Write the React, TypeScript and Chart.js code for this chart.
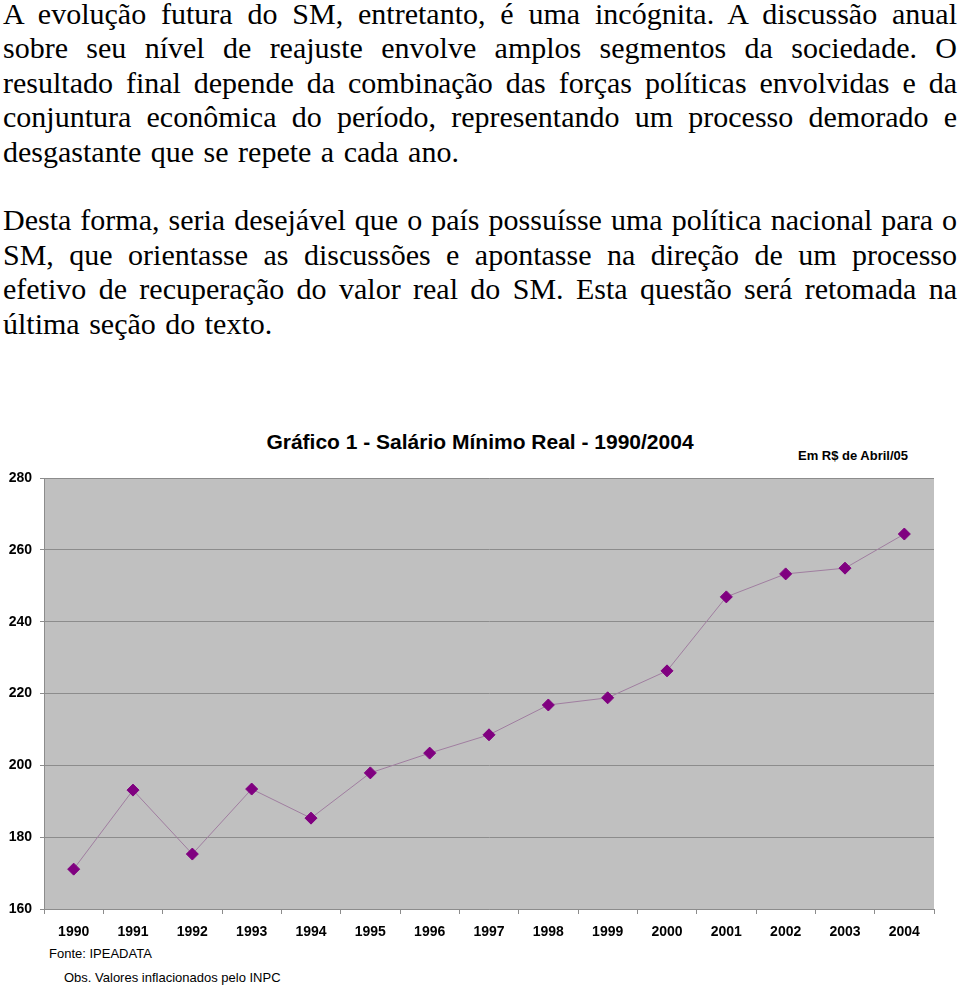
import React, { useEffect, useRef } from "react";
import { Chart, registerables } from "chart.js";

Chart.register(...registerables);

const years = ["1990","1991","1992","1993","1994","1995","1996","1997","1998","1999","2000","2001","2002","2003","2004"];
const salarioReal = [171.1, 193.1, 175.3, 193.4, 185.3, 197.9, 203.4, 208.5, 216.8, 218.8, 226.3, 246.9, 253.3, 254.9, 264.4];
const yMin = 160;
const yMax = 280;
const yStep = 20;

const chartTitle = "Gráfico 1 - Salário Mínimo Real - 1990/2004";
const unitNote = "Em R$ de Abril/05";
const sourceNote = "Fonte: IPEADATA";
const obsNote = "Obs. Valores inflacionados pelo INPC";

const para1 = [
  "A evolução futura do SM, entretanto, é uma incógnita. A discussão anual",
  "sobre seu nível de reajuste envolve amplos segmentos da sociedade. O",
  "resultado final depende da combinação das forças políticas envolvidas e da",
  "conjuntura econômica do período, representando um processo demorado e",
  "desgastante que se repete a cada ano.",
];
const para2 = [
  "Desta forma, seria desejável que o país possuísse uma política nacional para o",
  "SM, que orientasse as discussões e apontasse na direção de um processo",
  "efetivo de recuperação do valor real do SM. Esta questão será retomada na",
  "última seção do texto.",
];

const plotBg = {
  id: "plotBg",
  beforeDraw(chart: any) {
    const { ctx, chartArea } = chart;
    if (!chartArea) return;
    ctx.save();
    ctx.fillStyle = "#c0c0c0";
    ctx.fillRect(chartArea.left, chartArea.top, chartArea.right - chartArea.left, chartArea.bottom - chartArea.top);
    ctx.restore();
  },
};

function Paragraph({ lines }: { lines: string[] }) {
  return (
    <div>
      {lines.map((l, i) => {
        const last = i === lines.length - 1;
        return (
          <div
            key={i}
            style={{
              textAlign: "justify",
              textAlignLast: last ? "left" : "justify",
              wordSpacing: last ? "2px" : undefined,
              whiteSpace: "nowrap",
              height: "34.4px",
              lineHeight: "34.4px",
            }}
          >
            {l}
          </div>
        );
      })}
    </div>
  );
}

export default function App() {
  const canvasRef = useRef<HTMLCanvasElement | null>(null);

  useEffect(() => {
    if (!canvasRef.current) return;
    const chart = new Chart(canvasRef.current, {
      type: "line",
      data: {
        labels: years,
        datasets: [
          {
            data: salarioReal,
            borderColor: "#a07ea0",
            borderWidth: 1,
            pointStyle: "rectRot",
            pointRadius: 6,
            pointHoverRadius: 6,
            pointBackgroundColor: "#800080",
            pointBorderColor: "#800080",
            pointBorderWidth: 1,
            tension: 0,
            fill: false,
          },
        ],
      },
      options: {
        responsive: false,
        animation: false,
        layout: { padding: { top: 58, right: 26, left: 0, bottom: 0 } },
        plugins: {
          legend: { display: false },
          tooltip: { enabled: false },
          title: { display: false },
        },
        scales: {
          x: {
            offset: true,
            grid: {
              drawOnChartArea: false,
              offset: true,
              color: "#8c8c8c",
              tickLength: 5,
            },
            border: { display: true, color: "#8c8c8c" },
            ticks: {
              color: "#000",
              padding: 10,
              maxRotation: 0,
              autoSkip: false,
              font: { family: "'Liberation Sans', Arial, sans-serif", size: 14, weight: "bold" },
            },
            afterFit(scale: any) {
              scale.height = 31;
            },
          },
          y: {
            min: yMin,
            max: yMax,
            ticks: {
              stepSize: yStep,
              color: "#000",
              padding: 8,
              font: { family: "'Liberation Sans', Arial, sans-serif", size: 14, weight: "bold" },
            },
            grid: { color: "#8c8c8c", tickLength: 4, lineWidth: 1 },
            border: { display: true, color: "#8c8c8c" },
            afterFit(scale: any) {
              scale.width = 44;
            },
          },
        },
      },
      plugins: [plotBg],
    } as any);
    return () => chart.destroy();
  }, []);

  return (
    <div style={{ position: "absolute", left: 0, top: 0, width: 960, height: 989, background: "#fff", overflow: "hidden" }}>
      <div
        style={{
          position: "absolute",
          left: 3,
          top: -3,
          width: 954,
          fontFamily: "'Liberation Serif', 'Times New Roman', serif",
          fontSize: 30,
          color: "#000",
        }}
      >
        <Paragraph lines={para1} />
        <div style={{ height: "34.4px" }} />
        <Paragraph lines={para2} />
      </div>
      <div
        style={{
          position: "absolute",
          left: 0,
          top: 429,
          width: 960,
          textAlign: "center",
          fontFamily: "'Liberation Sans', Arial, sans-serif",
          fontWeight: "bold",
          fontSize: 21,
          lineHeight: "26px",
        }}
      >
        {chartTitle}
      </div>
      <div
        style={{
          position: "absolute",
          left: 798,
          top: 448,
          fontFamily: "'Liberation Sans', Arial, sans-serif",
          fontWeight: "bold",
          fontSize: 13,
          lineHeight: "16px",
        }}
      >
        {unitNote}
      </div>
      <div style={{ position: "absolute", left: 0, top: 420, width: 960, height: 520 }}>
        <canvas ref={canvasRef} width={960} height={520} style={{ width: 960, height: 520, display: "block" }} />
      </div>
      <div
        style={{
          position: "absolute",
          left: 49,
          top: 946,
          fontFamily: "'Liberation Sans', Arial, sans-serif",
          fontSize: 13,
          lineHeight: "16px",
        }}
      >
        {sourceNote}
      </div>
      <div
        style={{
          position: "absolute",
          left: 64,
          top: 970,
          fontFamily: "'Liberation Sans', Arial, sans-serif",
          fontSize: 13,
          lineHeight: "16px",
        }}
      >
        {obsNote}
      </div>
    </div>
  );
}
